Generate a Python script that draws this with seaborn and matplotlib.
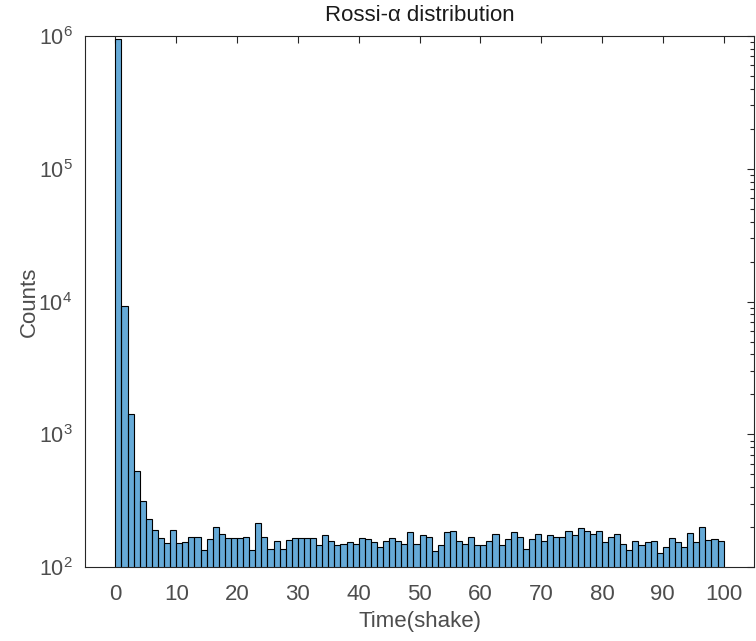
import numpy as np
import pandas as pd
import matplotlib
matplotlib.use("Agg")
import matplotlib.pyplot as plt
from matplotlib.ticker import LogLocator, FixedLocator, FixedFormatter
import seaborn as sns

# Rossi-alpha histogram: counts per 1-shake bin from 0 to 100
bin_start = np.arange(0, 100, 1)
counts = [
    946000, 9200, 1420, 531, 316, 230, 191, 167, 152, 191,
    152, 156, 170, 170, 134, 162, 202, 177, 165, 165,
    165, 170, 134, 217, 170, 137, 158, 137, 161, 165,
    165, 165, 165, 146, 175, 158, 146, 149, 154, 150,
    165, 163, 154, 141, 158, 165, 158, 150, 183, 150,
    175, 170, 133, 146, 183, 189, 158, 150, 170, 146,
    146, 158, 178, 146, 162, 183, 170, 137, 163, 178,
    158, 175, 170, 170, 189, 175, 197, 189, 178, 189,
    154, 170, 178, 150, 134, 158, 146, 154, 158, 127,
    141, 165, 154, 141, 180, 154, 202, 161, 162, 158,
]
x_ticks = [0, 10, 20, 30, 40, 50, 60, 70, 80, 90, 100]
y_ticks = [1e2, 1e3, 1e4, 1e5, 1e6]
y_tick_labels = [r"$\mathregular{10^{2}}$", r"$\mathregular{10^{3}}$",
                 r"$\mathregular{10^{4}}$", r"$\mathregular{10^{5}}$",
                 r"$\mathregular{10^{6}}$"]

sns.set_style("white")
plt.rcParams["font.family"] = ["Liberation Sans", "DejaVu Sans"]
plt.rcParams["mathtext.fontset"] = "custom"
plt.rcParams["mathtext.rm"] = "Liberation Sans"

ink = "#262626"
tick_ink = "#4d4d4d"
df = pd.DataFrame({"time": bin_start + 0.5, "counts": counts})

fig = plt.figure(figsize=(7.56, 6.41), dpi=100)
ax = fig.add_axes([0.1124, 0.115, 0.885, 0.829])

sns.histplot(data=df, x="time", weights="counts", binwidth=1, binrange=(0, 100),
             ax=ax, color="#0072BD", alpha=0.6, edgecolor="black", linewidth=0.8)
ax.set_yscale("log")
ax.set_ylim(1e2, 1e6)
ax.set_xlim(-5, 105)

ax.xaxis.set_major_locator(FixedLocator(x_ticks))
ax.yaxis.set_major_locator(FixedLocator(y_ticks))
ax.yaxis.set_major_formatter(FixedFormatter(y_tick_labels))
ax.yaxis.set_minor_locator(LogLocator(base=10, subs=np.arange(2, 10)))
ax.tick_params(which="both", direction="in", top=True, right=True,
               colors=ink, labelcolor=tick_ink, width=0.8)
ax.tick_params(which="major", length=5)
ax.tick_params(which="minor", length=3)
ax.tick_params(axis="x", which="major", pad=12, labelsize=16)
ax.tick_params(axis="y", which="major", pad=9, labelsize=15.5)
ax.xaxis.set_tick_params(which="minor", bottom=False, top=False)
for s in ax.spines.values():
    s.set_color(ink)
    s.set_linewidth(0.8)
    s.set_visible(True)

ax.set_xlabel("Time(shake)", fontsize=16, color=tick_ink, labelpad=4)
ax.set_ylabel("Counts", fontsize=16, color=tick_ink, labelpad=-1)
ax.set_title("Rossi-\u03b1 distribution", fontsize=16, color="#1a1a1a", pad=11)

fig.savefig("out.png", dpi=100)
